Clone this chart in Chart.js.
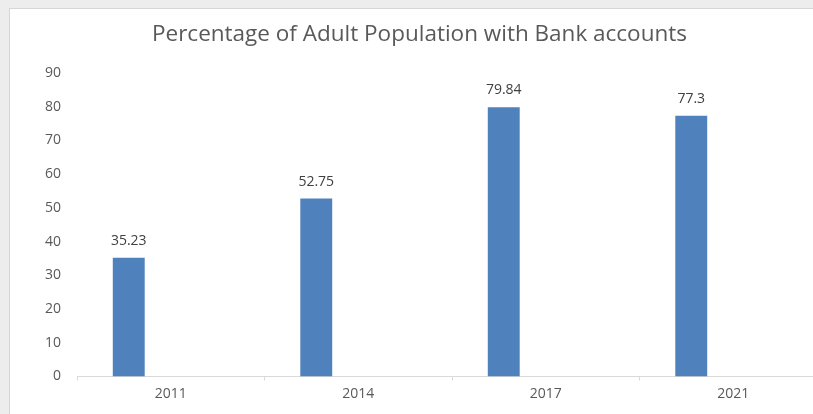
<!DOCTYPE html>
<html>
<head>
<meta charset="utf-8">
<script src="https://cdn.jsdelivr.net/npm/chart.js@4.4.0/dist/chart.umd.min.js"></script>
<style>
    html, body { margin: 0; padding: 0; overflow: hidden; }
    body { width: 813px; height: 414px; background: #ededed; position: relative; }
    .card { position: absolute; left: 9px; top: 8px; width: 820px; height: 420px;
            background: #fff; border-top: 1px solid #d6d6d6; border-left: 1px solid #d6d6d6; }
    .wrap { position: absolute; left: 0; top: 0; width: 840px; height: 414px; }
</style>
</head>
<body>
<div class="card"></div>
<div class="wrap"><canvas id="bankChart" width="840" height="414"></canvas></div>
<script>
const YEARS = ['2011', '2014', '2017', '2021'];
const PERCENT_WITH_ACCOUNT = [35.23, 52.75, 79.84, 77.3];
const EMPTY_SERIES = [null, null, null, null];
const Y_MAX = 90;
const Y_STEP = 10;

// value labels above each bar
const barLabels = {
    id: 'barLabels',
    afterDatasetsDraw(chart) {
        const ctx = chart.ctx;
        const meta = chart.getDatasetMeta(0);
        ctx.save();
        ctx.font = '14px "Open Sans"';
        ctx.fillStyle = '#404040';
        ctx.textAlign = 'center';
        ctx.textBaseline = 'middle';
        meta.data.forEach((bar, i) => {
            ctx.fillText(String(PERCENT_WITH_ACCOUNT[i]), bar.x, bar.y - 17);
        });
        ctx.restore();
    }
};

const ctx = document.getElementById('bankChart').getContext('2d');
new Chart(ctx, {
    type: 'bar',
    data: {
        labels: YEARS,
        datasets: [{
            data: PERCENT_WITH_ACCOUNT,
            backgroundColor: '#4f81bd',
            categoryPercentage: 0.896,
            barPercentage: 0.38
        }, {
            data: EMPTY_SERIES,
            backgroundColor: '#c0504d',
            categoryPercentage: 0.896,
            barPercentage: 0.38
        }]
    },
    options: {
        responsive: false,
        animation: false,
        layout: { padding: { left: 12, right: 13, top: 0, bottom: 0 } },
        scales: {
            y: {
                min: 0,
                max: Y_MAX,
                ticks: {
                    stepSize: Y_STEP,
                    color: '#595959',
                    font: { family: 'Open Sans', size: 14 },
                    padding: 8
                },
                grid: { display: false },
                border: { display: false },
                afterFit(scale) { scale.width = 65; }
            },
            x: {
                ticks: {
                    color: '#595959',
                    font: { family: 'Open Sans', size: 14 },
                    padding: 5
                },
                grid: {
                    drawOnChartArea: false,
                    drawTicks: true,
                    tickLength: 4,
                    color: '#d9d9d9'
                },
                border: { display: true, color: '#d9d9d9', width: 1 },
                afterFit(scale) { scale.height = 37.5; }
            }
        },
        plugins: {
            legend: { display: false },
            tooltip: { enabled: false },
            title: {
                display: true,
                text: 'Percentage of Adult Population with Bank accounts',
                color: '#595959',
                font: { family: 'Open Sans', size: 22.5, weight: 'normal' },
                padding: { top: 21.5, bottom: 24.5 },
                align: 'center'
            }
        }
    },
    plugins: [barLabels]
});
</script>
</body>
</html>
